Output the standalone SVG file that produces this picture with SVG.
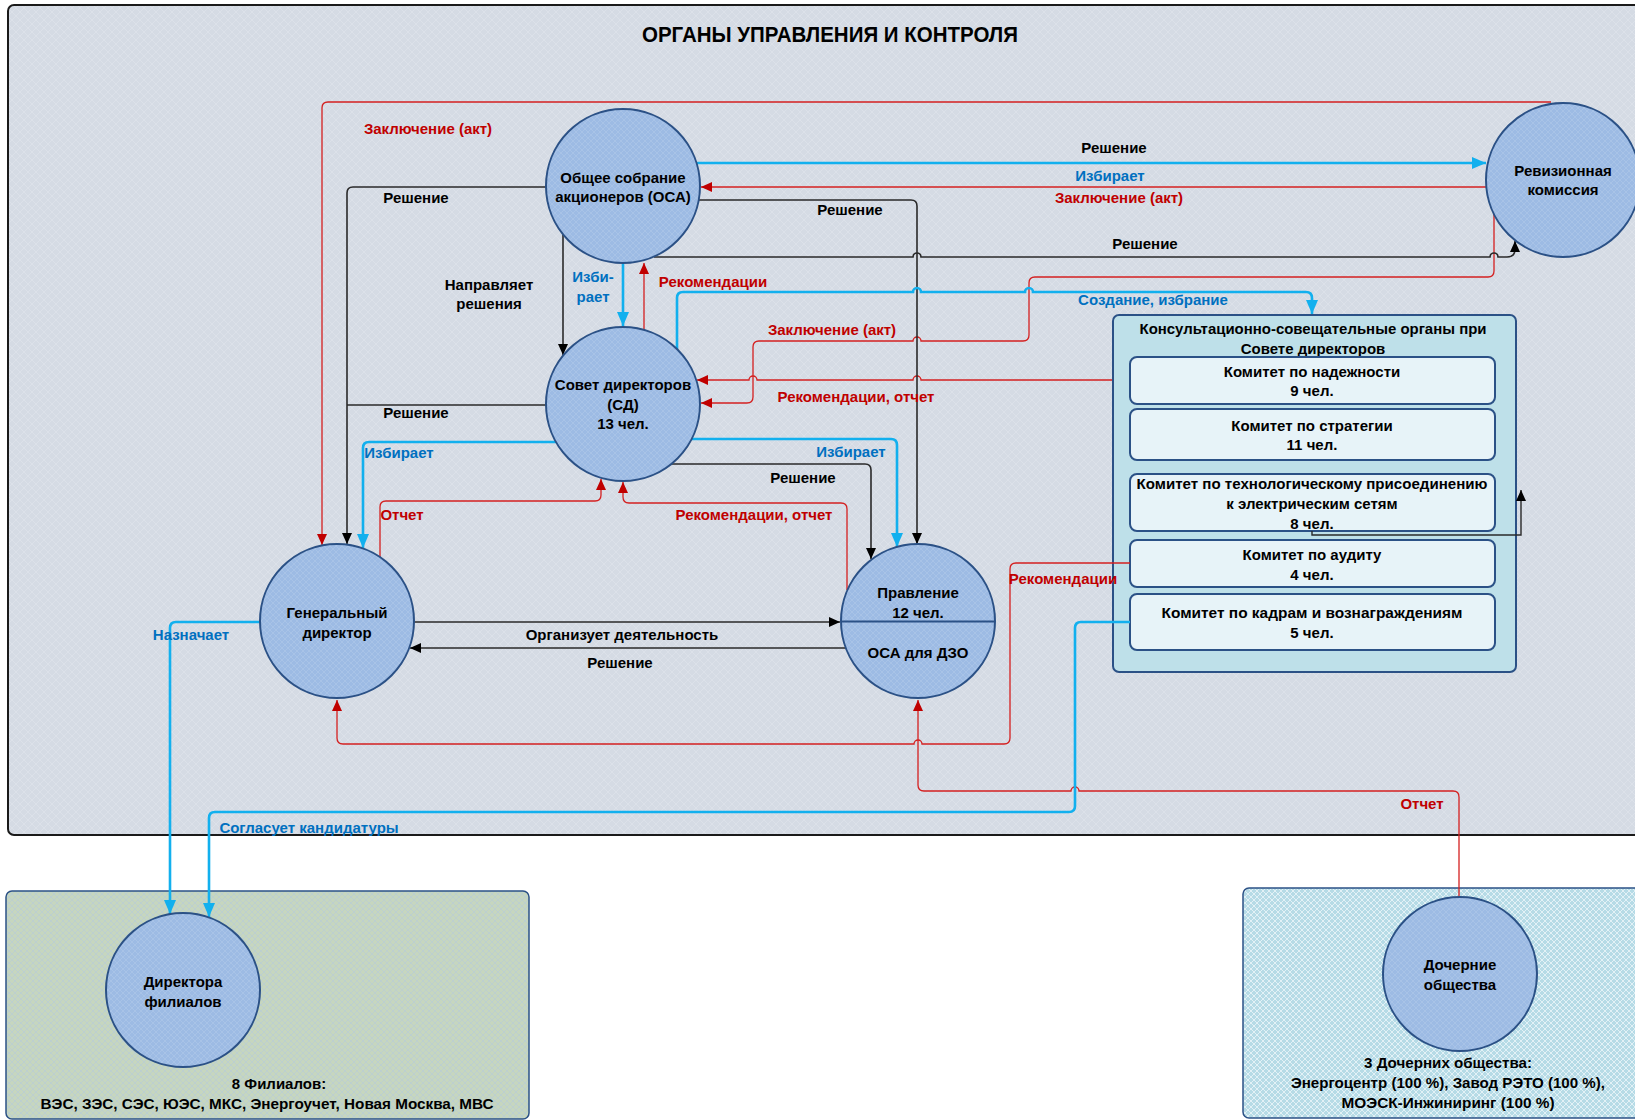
<svg xmlns="http://www.w3.org/2000/svg" width="1635" height="1120" viewBox="0 0 1635 1120">
<defs>
<style>
.t{font-family:"Liberation Sans",Arial,sans-serif;font-weight:bold;font-size:15px;text-anchor:middle;dominant-baseline:central}
.k{fill:#000}
.r{fill:#c00000}
.b{fill:#0070c0}
.node{fill:url(#pNode);stroke:#2b5186;stroke-width:2}
.cr{fill:none;stroke:#d42020;stroke-width:1.3}
.cb{fill:none;stroke:#12b0ee;stroke-width:2.6}
.ck{fill:none;stroke:#2a2a2a;stroke-width:1.6}
.mr{marker-end:url(#aR)}
.mb{marker-end:url(#aB)}
.mk{marker-end:url(#aK)}
.com{fill:#e7f3f8;stroke:#2b5186;stroke-width:2}
</style>
<pattern id="pBg" width="8" height="8" patternUnits="userSpaceOnUse"><rect width="8" height="8" fill="#d5dbe4"/><path d="M0,0 L8,8 M8,0 L0,8" stroke="#dfe4eb" stroke-width="0.7"/></pattern>
<pattern id="pNode" width="6" height="6" patternUnits="userSpaceOnUse"><rect width="6" height="6" fill="#9dbbe4"/><path d="M0,0 L6,6 M6,0 L0,6" stroke="#b0c8ea" stroke-width="0.6"/></pattern>
<pattern id="pGreen" width="6" height="6" patternUnits="userSpaceOnUse"><rect width="6" height="6" fill="#c6d6bf"/><path d="M0,0 L6,6 M6,0 L0,6" stroke="#b7cbd6" stroke-width="0.7"/></pattern>
<pattern id="pCyan" width="6" height="6" patternUnits="userSpaceOnUse"><rect width="6" height="6" fill="#b6dbe6"/><path d="M0,0 L6,6 M6,0 L0,6" stroke="#e6f4f8" stroke-width="0.9"/></pattern>
<marker id="aR" markerUnits="userSpaceOnUse" markerWidth="11" markerHeight="10" viewBox="0 0 11 10" refX="11" refY="5" orient="auto"><path d="M0,0 L11,5 L0,10 z" fill="#c00000"/></marker>
<marker id="aB" markerUnits="userSpaceOnUse" markerWidth="14" markerHeight="12" viewBox="0 0 14 12" refX="14" refY="6" orient="auto"><path d="M0,0 L14,6 L0,12 z" fill="#12b0ee"/></marker>
<marker id="aK" markerUnits="userSpaceOnUse" markerWidth="11" markerHeight="10" viewBox="0 0 11 10" refX="11" refY="5" orient="auto"><path d="M0,0 L11,5 L0,10 z" fill="#000"/></marker>
</defs>

<rect width="1635" height="1120" fill="#ffffff"/>

<g id="main-container">
<rect x="8" y="5" width="1650" height="830" rx="6" fill="url(#pBg)" stroke="#1a1a1a" stroke-width="2"/>
<text class="t k" x="830" y="34" style="font-size:22px" textLength="376" lengthAdjust="spacingAndGlyphs">ОРГАНЫ УПРАВЛЕНИЯ И КОНТРОЛЯ</text>
</g>

<g id="filials-box">
<rect x="6" y="891" width="523" height="228" rx="6" fill="url(#pGreen)" stroke="#2b5186" stroke-width="1.5"/>
<text class="t k" x="279" y="1083">8 Филиалов:</text>
<text class="t k" x="267" y="1103" textLength="453" lengthAdjust="spacingAndGlyphs">ВЭС, ЗЭС, СЭС, ЮЭС, МКС, Энергоучет, Новая Москва, МВС</text>
</g>

<g id="subsidiaries-box">
<rect x="1243" y="888" width="420" height="230" rx="6" fill="url(#pCyan)" stroke="#2b5186" stroke-width="1.5"/>
<text class="t k" x="1448" y="1062" textLength="168" lengthAdjust="spacingAndGlyphs">3 Дочерних общества:</text>
<text class="t k" x="1448" y="1082" textLength="314" lengthAdjust="spacingAndGlyphs">Энергоцентр (100 %), Завод РЭТО (100 %),</text>
<text class="t k" x="1448" y="1102" textLength="213" lengthAdjust="spacingAndGlyphs">МОЭСК-Инжиниринг (100 %)</text>
</g>

<g id="committees">
<rect x="1113" y="315" width="403" height="357" rx="6" fill="#bee0e9" stroke="#2b5186" stroke-width="2"/>
<text class="t k" x="1313" y="328" textLength="347" lengthAdjust="spacingAndGlyphs">Консультационно-совещательные органы при</text>
<text class="t k" x="1313" y="348">Совете директоров</text>
<g id="com-reliability"><rect class="com" x="1130" y="357" width="365" height="47" rx="7"/>
<text class="t k" x="1312" y="371">Комитет по надежности</text><text class="t k" x="1312" y="390">9 чел.</text></g>
<g id="com-strategy"><rect class="com" x="1130" y="409" width="365" height="51" rx="7"/>
<text class="t k" x="1312" y="425">Комитет по стратегии</text><text class="t k" x="1312" y="444">11 чел.</text></g>
<g id="com-tech"><rect class="com" x="1130" y="474" width="365" height="57" rx="7"/>
<text class="t k" x="1312" y="483" textLength="351" lengthAdjust="spacingAndGlyphs">Комитет по технологическому присоединению</text>
<text class="t k" x="1312" y="503">к электрическим сетям</text><text class="t k" x="1312" y="523">8 чел.</text></g>
<g id="com-audit"><rect class="com" x="1130" y="540" width="365" height="47" rx="7"/>
<text class="t k" x="1312" y="554">Комитет по аудиту</text><text class="t k" x="1312" y="574">4 чел.</text></g>
<g id="com-hr"><rect class="com" x="1130" y="594" width="365" height="56" rx="7"/>
<text class="t k" x="1312" y="612" textLength="301" lengthAdjust="spacingAndGlyphs">Комитет по кадрам и вознаграждениям</text>
<text class="t k" x="1312" y="632">5 чел.</text></g>
</g>

<g id="connectors">
<!-- red -->
<path class="cr mr" d="M1551,102 H328 Q322,102 322,108 V545"/>
<path class="cr mr" d="M644,330 V263"/>
<path class="cr mr" d="M1486,187 H701"/>
<path class="cr mr" d="M1494,214 V271 Q1494,277 1488,277 H1035 Q1029,277 1029,283 V335 Q1029,341 1023,341 H921 a4,4 0 0 0 -8,0 H759 Q753,341 753,347 V397 Q753,403 747,403 H701"/>
<path class="cr mr" d="M1112,380 H921 a4,4 0 0 0 -8,0 H757 a4,4 0 0 0 -8,0 H697"/>
<path class="cr mr" d="M847,590 V509 Q847,503 841,503 H629 Q623,503 623,497 V482"/>
<path class="cr mr" d="M380,557 V507 Q380,501 386,501 H595 Q601,501 601,495 V479"/>
<path class="cr mr" d="M1130,563 H1016 Q1010,563 1010,569 V738 Q1010,744 1004,744 H922 a4,4 0 0 0 -8,0 H343 Q337,744 337,738 V700"/>
<path class="cr mr" d="M1459,897 V797 Q1459,791 1453,791 H1079 a4,4 0 0 0 -8,0 H924 Q918,791 918,785 V700"/>
<!-- black -->
<path class="ck mk" d="M546,187 H353 Q347,187 347,193 V544"/>
<path class="ck" d="M546,405 H347"/>
<path class="ck mk" d="M563,235 V355"/>
<path class="ck mk" d="M699,200 H911 Q917,200 917,206 V544"/>
<path class="ck mk" d="M654,257 H913 a4,4 0 0 1 8,0 H1490 a4,4 0 0 1 8,0 H1507 Q1515,257 1515,249 V241"/>
<path class="ck mk" d="M671,464 H865 Q871,464 871,470 V559"/>
<path class="ck mk" d="M414,622 H840"/>
<path class="ck mk" d="M846,648 H410"/>
<path class="ck mk" d="M1312,531 V535 H1521 V490" style="stroke-width:1.4"/>
<!-- blue -->
<path class="cb mb" d="M623,264 V326"/>
<path class="cb mb" d="M697,163 H1486"/>
<path class="cb mb" d="M677,349 V298 Q677,292 683,292 H913 a4,4 0 0 1 8,0 H1025 a4,4 0 0 1 8,0 H1306 Q1312,292 1312,298 V314"/>
<path class="cb mb" d="M556,442 H369 Q363,442 363,448 V548"/>
<path class="cb mb" d="M691,439 H891 Q897,439 897,445 V547"/>
<path class="cb mb" d="M1130,622 H1081 Q1075,622 1075,628 V806 Q1075,812 1069,812 H215 Q209,812 209,818 V917"/>
<path class="cb mb" d="M260,622 H176 Q170,622 170,628 V914"/>
</g>

<g id="connector-labels">
<text class="t r" x="428" y="128">Заключение (акт)</text>
<text class="t k" x="416" y="197">Решение</text>
<text class="t k" x="416" y="412">Решение</text>
<text class="t k" x="489" y="284">Направляет</text>
<text class="t k" x="489" y="303">решения</text>
<text class="t b" x="593" y="276">Изби-</text>
<text class="t b" x="593" y="296">рает</text>
<text class="t r" x="713" y="281">Рекомендации</text>
<text class="t k" x="1114" y="147">Решение</text>
<text class="t b" x="1110" y="175">Избирает</text>
<text class="t r" x="1119" y="197">Заключение (акт)</text>
<text class="t k" x="850" y="209">Решение</text>
<text class="t k" x="1145" y="243">Решение</text>
<text class="t b" x="1153" y="299">Создание, избрание</text>
<text class="t r" x="832" y="329">Заключение (акт)</text>
<text class="t r" x="856" y="396">Рекомендации, отчет</text>
<text class="t b" x="399" y="452">Избирает</text>
<text class="t b" x="851" y="451">Избирает</text>
<text class="t k" x="803" y="477">Решение</text>
<text class="t r" x="402" y="514">Отчет</text>
<text class="t r" x="754" y="514">Рекомендации, отчет</text>
<text class="t k" x="622" y="634">Организует деятельность</text>
<text class="t k" x="620" y="662">Решение</text>
<text class="t b" x="191" y="634">Назначает</text>
<text class="t r" x="1063" y="578">Рекомендации</text>
<text class="t r" x="1422" y="803">Отчет</text>
<text class="t b" x="309" y="827">Согласует кандидатуры</text>
</g>

<g id="node-osa">
<circle class="node" cx="623" cy="186" r="77"/>
<text class="t k" x="623" y="177">Общее собрание</text>
<text class="t k" x="623" y="196">акционеров (ОСА)</text>
</g>
<g id="node-sd">
<circle class="node" cx="623" cy="404" r="77"/>
<text class="t k" x="623" y="384">Совет директоров</text>
<text class="t k" x="623" y="404">(СД)</text>
<text class="t k" x="623" y="423">13 чел.</text>
</g>
<g id="node-audit">
<circle class="node" cx="1563" cy="180" r="77"/>
<text class="t k" x="1563" y="170">Ревизионная</text>
<text class="t k" x="1563" y="189">комиссия</text>
</g>
<g id="node-gd">
<circle class="node" cx="337" cy="621" r="77"/>
<text class="t k" x="337" y="612">Генеральный</text>
<text class="t k" x="337" y="632">директор</text>
</g>
<g id="node-board">
<circle class="node" cx="918" cy="621" r="77"/>
<path d="M841,621.5 H995" stroke="#2b5186" stroke-width="2"/>
<text class="t k" x="918" y="592">Правление</text>
<text class="t k" x="918" y="612">12 чел.</text>
<text class="t k" x="918" y="652">ОСА для ДЗО</text>
</g>
<g id="node-branch-dirs">
<circle class="node" cx="183" cy="990" r="77"/>
<text class="t k" x="183" y="981">Директора</text>
<text class="t k" x="183" y="1001">филиалов</text>
</g>
<g id="node-subsidiaries">
<circle class="node" cx="1460" cy="974" r="77"/>
<text class="t k" x="1460" y="964">Дочерние</text>
<text class="t k" x="1460" y="984">общества</text>
</g>
</svg>
